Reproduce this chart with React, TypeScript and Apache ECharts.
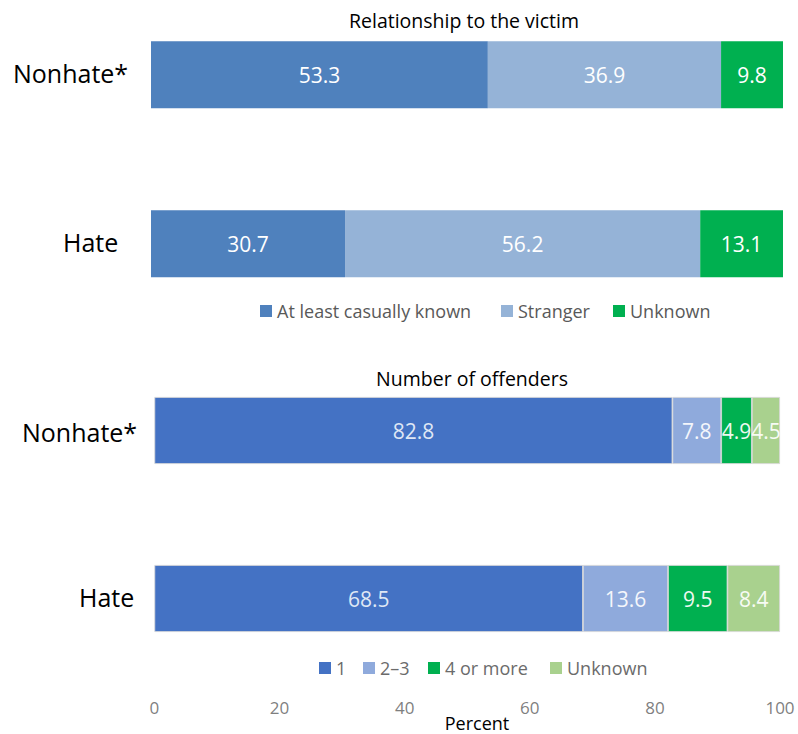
import React, { useEffect, useRef } from "react";
import * as echarts from "echarts";

const relTitle = "Relationship to the victim";
const relCategories = ["Nonhate*", "Hate"];
const relNames = ["At least casually known", "Stranger", "Unknown"];
const relKnown = [53.3, 30.7];
const relStranger = [36.9, 56.2];
const relUnknown = [9.8, 13.1];

const offTitle = "Number of offenders";
const offCategories = ["Nonhate*", "Hate"];
const offNames = ["1", "2–3", "4 or more", "Unknown"];
const off1 = [82.8, 68.5];
const off23 = [7.8, 13.6];
const off4 = [4.9, 9.5];
const offUnknown = [4.5, 8.4];

const xMin = 0;
const xMax = 100;
const xInterval = 20;
const xName = "Percent";

const relColors = ["#4F81BD", "#95B3D7", "#00B050"];
const offColors = ["#4472C4", "#8FAADC", "#00B050", "#A9D18E"];
const relLegendX = [260, 501, 613];
const offLegendX = [319, 363, 428, 550];
const FONT = "Open Sans";

export default function App() {
  const ref = useRef<HTMLDivElement>(null);
  useEffect(() => {
    document.body.style.margin = "0";
    if (!ref.current) return;
    const chart = echarts.init(ref.current, null, { renderer: "svg" });

    const relData = [relKnown, relStranger, relUnknown];
    const offData = [off1, off23, off4, offUnknown];

    const relSeries = relNames.map((n, i) => ({
      name: n,
      type: "bar",
      stack: "rel",
      xAxisIndex: 0,
      yAxisIndex: 0,
      barWidth: 67,
      data: relData[i],
      itemStyle: { color: relColors[i] },
      label: {
        show: true,
        position: "inside",
        color: "#ffffff",
        fontSize: 21,
        fontFamily: FONT,
        formatter: (p: any) => p.value.toFixed(1),
      },
    }));
    const offLabelColors = ["#dfe7f5", "#f4f6fb", "#eef8f1", "#f7fbf4"];
    const offSeries = offNames.map((n, i) => ({
      name: n,
      type: "bar",
      stack: "off",
      xAxisIndex: 1,
      yAxisIndex: 1,
      barWidth: 67,
      data: offData[i],
      itemStyle: { color: offColors[i], borderColor: "#d6d6d6", borderWidth: 0.8 },
      label: {
        show: true,
        position: "inside",
        color: offLabelColors[i],
        fontSize: 21,
        fontFamily: FONT,
        formatter: (p: any) => p.value.toFixed(1),
      },
    }));

    const catText = (text: string, x: number, y: number) => ({
      type: "text",
      x,
      y,
      style: { text, fontSize: 25, fontFamily: FONT, fill: "#000000", verticalAlign: "middle" },
    });

    const mkLegend = (name: string, color: string, left: number, top: number, textColor: string) => ({
      left,
      top,
      padding: 0,
      itemWidth: 12,
      itemHeight: 12,
      icon: "rect",
      selectedMode: false,
      textStyle: { color: textColor, fontSize: 18, fontFamily: FONT, lineHeight: 20 },
      data: [{ name, itemStyle: { color, borderWidth: 0 } }],
    });

    chart.setOption({
      animation: false,
      grid: [
        { left: 151, width: 632, top: -9.7, height: 338, outerBoundsMode: "none", containLabel: false },
        { left: 154.4, width: 625.6, top: 346.5, height: 336, outerBoundsMode: "none", containLabel: false },
      ],
      xAxis: [
        { gridIndex: 0, type: "value", min: xMin, max: xMax, interval: xInterval, show: false },
        {
          gridIndex: 1,
          type: "value",
          min: xMin,
          max: xMax,
          interval: xInterval,
          axisLine: { show: false },
          axisTick: { show: false },
          splitLine: { show: false },
          axisLabel: { color: "#7f7f7f", fontSize: 17, fontFamily: FONT, margin: 16 },
        },
      ],
      yAxis: [
        { gridIndex: 0, type: "category", data: relCategories, inverse: true, show: false },
        { gridIndex: 1, type: "category", data: offCategories, inverse: true, show: false },
      ],
      legend: [
        ...relNames.map((n, i) => mkLegend(n, relColors[i], relLegendX[i], 301, "#595959")),
        ...offNames.map((n, i) => mkLegend(n, offColors[i], offLegendX[i], 658, "#6b6b6b")),
      ],
      graphic: [
        {
          type: "text",
          x: 464,
          y: 20,
          style: { text: relTitle, fontSize: 19.5, fontFamily: FONT, fill: "#000000", align: "center", verticalAlign: "middle" },
        },
        {
          type: "text",
          x: 472,
          y: 378,
          style: { text: offTitle, fontSize: 19.5, fontFamily: FONT, fill: "#000000", align: "center", verticalAlign: "middle" },
        },
        {
          type: "text",
          x: 477,
          y: 723,
          style: { text: xName, fontSize: 18, fontFamily: FONT, fill: "#000000", align: "center", verticalAlign: "middle" },
        },
        catText(relCategories[0], 13, 73),
        catText(relCategories[1], 63, 242),
        catText(offCategories[0], 22, 432),
        catText(offCategories[1], 79, 597),
      ],
      series: [...relSeries, ...offSeries],
    });
    return () => chart.dispose();
  }, []);
  return <div ref={ref} style={{ width: 798, height: 734 }} />;
}
